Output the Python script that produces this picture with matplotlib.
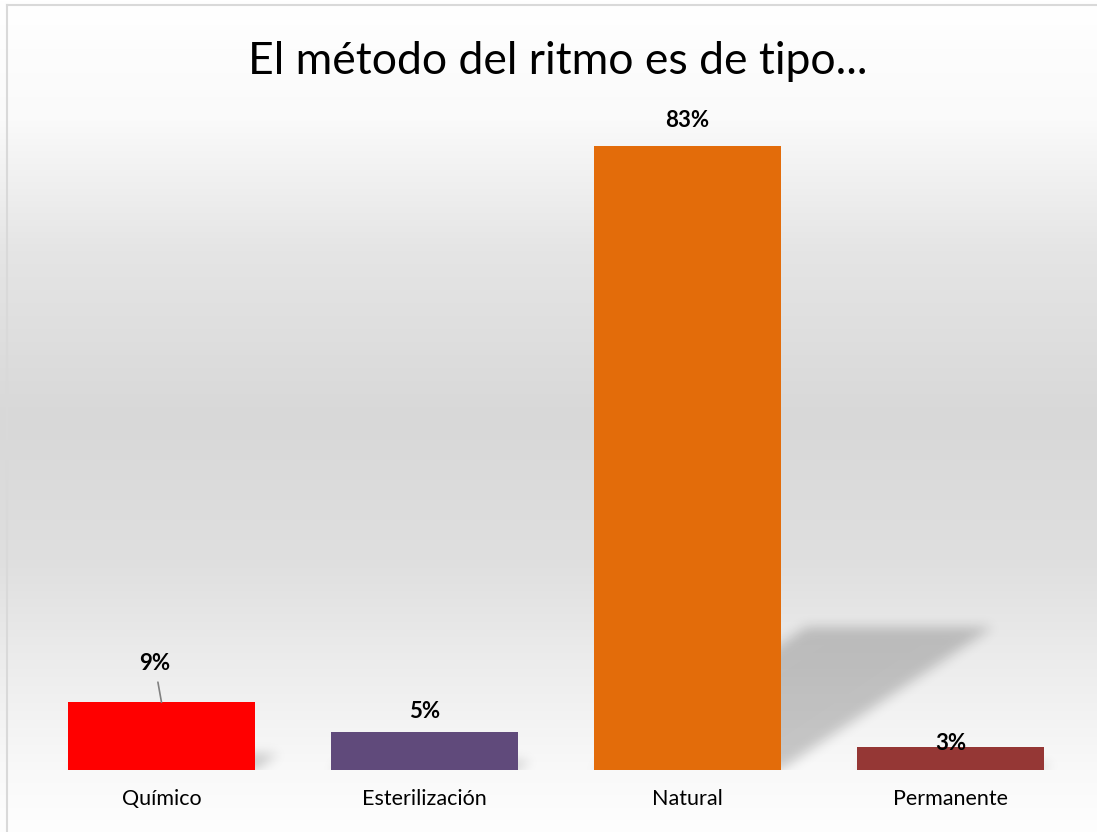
import matplotlib.pyplot as plt
import numpy as np
from matplotlib.lines import Line2D

categories = ['Químico', 'Esterilización', 'Natural', 'Permanente']
percentages = [9, 5, 83, 3]
bar_colors = ['#ff0000', '#604a7b', '#e36c0a', '#953735']
title = 'El método del ritmo es de tipo...'

# label offsets in points (dx, dy) relative to the top centre of each bar
label_offsets = [(-5, 28), (0, 15), (0, 18), (0, 3)]

plt.rcParams['font.family'] = ['Lato', 'DejaVu Sans']

W, H = 1097, 832
fig = plt.figure(figsize=(W / 100, H / 100), dpi=100)
fig.patch.set_facecolor('white')

# vertical light-grey gradient behind the chart, painted pixel by pixel
grad_y = [0, 120, 250, 420, 560, 660, 770, 832]
grad_v = [255, 250, 229, 216, 223, 236, 249, 254]
rows = np.interp(np.arange(H), grad_y, grad_v) / 255.0
plane = np.repeat(rows[:, None], W, axis=1)
fig.figimage(np.dstack([plane, plane, plane]), xo=0, yo=0, origin='upper', zorder=-10)

# thin frame on the left and top
fig.add_artist(Line2D([7 / W, 7 / W], [0, 1 - 5 / H], color='#d9d9d9', lw=1.5,
                      transform=fig.transFigure))
fig.add_artist(Line2D([7 / W, 1], [1 - 5 / H, 1 - 5 / H], color='#d9d9d9', lw=1.5,
                      transform=fig.transFigure))

ax = fig.add_axes([30 / W, 62 / H, 1052 / W, 677 / H])
ax.set_facecolor('none')
x = np.arange(len(categories))
bar_w = 0.71
ax.set_xlim(-0.5, len(categories) - 0.5)
ax.set_ylim(0, 90)

# blurred perspective shadows cast up and to the right of each bar
shadow_rise = 0.229   # shadow height as fraction of bar height
shadow_lean = 0.0426  # horizontal shift (categories) per unit of shadow height
nx, ny = 1052, 677
xs = np.linspace(-0.5, len(categories) - 0.5, nx)
ys = np.linspace(0, 90, ny)
X, Y = np.meshgrid(xs, ys)
mask = np.zeros_like(X)
for xi, v in zip(x, percentages):
    inside = (Y <= v * shadow_rise) & \
             (X >= xi - bar_w / 2 + shadow_lean * Y) & \
             (X <= xi + bar_w / 2 + shadow_lean * Y)
    mask[inside] = 1.0
k = np.arange(-18, 19)
kernel = np.exp(-0.5 * (k / 6.0) ** 2)
kernel /= kernel.sum()
mask = np.apply_along_axis(lambda r: np.convolve(r, kernel, mode='same'), 1, mask)
mask = np.apply_along_axis(lambda c: np.convolve(c, kernel, mode='same'), 0, mask)
shadow = np.zeros((ny, nx, 4))
shadow[..., 3] = mask * 0.2
ax.imshow(shadow, extent=[-0.5, len(categories) - 0.5, 0, 90], origin='lower',
          aspect='auto', zorder=1, interpolation='bilinear')

ax.bar(x, percentages, width=bar_w, color=bar_colors, zorder=2)

for xi, v, (dx, dy) in zip(x, percentages, label_offsets):
    arrow = None
    if dy > 20:
        arrow = dict(arrowstyle='-', color='#808080', lw=1.2, shrinkA=4, shrinkB=0)
    ax.annotate(f'{v}%', xy=(xi, v), xytext=(dx, dy), textcoords='offset points',
                ha='center', va='center', fontsize=16, fontweight='bold',
                color='#000000', arrowprops=arrow, zorder=3)

ax.set_xticks(x)
ax.set_xticklabels(categories, fontsize=15.5, color='#000000')
ax.tick_params(axis='x', length=0, pad=14)
ax.set_yticks([])
for s in ax.spines.values():
    s.set_visible(False)

fig.text(558 / W, 1 - 62 / H, title, ha='center', va='center', fontsize=32,
         color='#000000')

fig.savefig('out.png', dpi=100)
